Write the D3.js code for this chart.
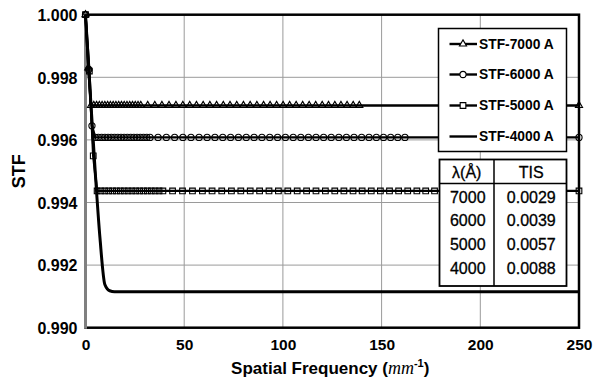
<!DOCTYPE html>
<html>
<head>
<meta charset="utf-8">
<script src="https://cdn.jsdelivr.net/npm/d3@7"></script>
<style>
  html, body { margin: 0; padding: 0; background: #fff; }
  svg { display: block; }
</style>
</head>
<body>
<svg id="chart" width="593" height="382"></svg>
<script>
// ---------------- DATA ----------------
const xTicks = [0, 50, 100, 150, 200, 250];
const yTicks = [0.990, 0.992, 0.994, 0.996, 0.998, 1.000];
const seriesNames = ["STF-7000 A", "STF-6000 A", "STF-5000 A", "STF-4000 A"];

const x7000 = [0, 1.4, 2.8, 4.2, 5.6, 7.0, 8.4, 9.8, 11.2, 12.6, 14.0, 15.4, 16.8, 18.2, 19.6, 21.0, 22.4, 23.8, 25.2, 26.6, 28.0,
  31.5, 35.1, 38.7, 42.3, 45.8, 49.3, 52.8, 56.2, 59.6, 63.0, 66.4, 69.8, 73.2, 76.6, 80.0, 83.4, 86.8, 90.2, 93.5, 96.8,
  100.1, 103.4, 106.7, 110.0, 113.3, 116.6, 119.9, 123.1, 126.3, 129.4, 132.5, 135.6, 138.7, 250];
const y7000 = [1.0000, 0.99830, 0.99710, 0.99710, 0.99710, 0.99710, 0.99710, 0.99710, 0.99710, 0.99710, 0.99710, 0.99710, 0.99710, 0.99710, 0.99710, 0.99710, 0.99710, 0.99710, 0.99710, 0.99710, 0.99710,
  0.99710, 0.99710, 0.99710, 0.99710, 0.99710, 0.99710, 0.99710, 0.99710, 0.99710, 0.99710, 0.99710, 0.99710, 0.99710, 0.99710, 0.99710, 0.99710, 0.99710, 0.99710, 0.99710, 0.99710,
  0.99710, 0.99710, 0.99710, 0.99710, 0.99710, 0.99710, 0.99710, 0.99710, 0.99710, 0.99710, 0.99710, 0.99710, 0.99710, 0.99710];

const x6000 = [0, 1.63, 3.27, 4.9, 6.53, 8.17, 9.8, 11.43, 13.07, 14.7, 16.33, 17.97, 19.6, 21.23, 22.87, 24.5, 26.13, 27.77, 29.4, 31.03, 32.67,
  36.75, 40.95, 45.15, 49.35, 53.43, 57.52, 61.6, 65.57, 69.53, 73.5, 77.47, 81.43, 85.4, 89.37, 93.33, 97.3, 101.27, 105.23, 109.07, 112.93,
  116.78, 120.63, 124.48, 128.33, 132.18, 136.03, 139.88, 143.62, 147.35, 150.97, 154.58, 158.2, 161.82, 250];
const y6000 = [1.0000, 0.99825, 0.99645, 0.99608, 0.99608, 0.99608, 0.99608, 0.99608, 0.99608, 0.99608, 0.99608, 0.99608, 0.99608, 0.99608, 0.99608, 0.99608, 0.99608, 0.99608, 0.99608, 0.99608, 0.99608,
  0.99608, 0.99608, 0.99608, 0.99608, 0.99608, 0.99608, 0.99608, 0.99608, 0.99608, 0.99608, 0.99608, 0.99608, 0.99608, 0.99608, 0.99608, 0.99608, 0.99608, 0.99608, 0.99608, 0.99608,
  0.99608, 0.99608, 0.99608, 0.99608, 0.99608, 0.99608, 0.99608, 0.99608, 0.99608, 0.99608, 0.99608, 0.99608, 0.99608, 0.99608];

const x5000 = [0, 1.96, 3.92, 5.88, 7.84, 9.8, 11.76, 13.72, 15.68, 17.64, 19.6, 21.56, 23.52, 25.48, 27.44, 29.4, 31.36, 33.32, 35.28, 37.24, 39.2,
  44.1, 49.14, 54.18, 59.22, 64.12, 69.02, 73.92, 78.68, 83.44, 88.2, 92.96, 97.72, 102.48, 107.24, 112.0, 116.76, 121.52, 126.28, 130.9, 135.52,
  140.14, 144.76, 149.38, 154.0, 158.62, 163.24, 167.86, 172.34, 176.82, 181.16, 185.5, 189.84, 194.18, 250];
const y5000 = [1.0000, 0.99820, 0.99549, 0.99437, 0.99437, 0.99437, 0.99437, 0.99437, 0.99437, 0.99437, 0.99437, 0.99437, 0.99437, 0.99437, 0.99437, 0.99437, 0.99437, 0.99437, 0.99437, 0.99437, 0.99437,
  0.99437, 0.99437, 0.99437, 0.99437, 0.99437, 0.99437, 0.99437, 0.99437, 0.99437, 0.99437, 0.99437, 0.99437, 0.99437, 0.99437, 0.99437, 0.99437, 0.99437, 0.99437, 0.99437, 0.99437,
  0.99437, 0.99437, 0.99437, 0.99437, 0.99437, 0.99437, 0.99437, 0.99437, 0.99437, 0.99437, 0.99437, 0.99437, 0.99437, 0.99437];

const x4000 = [0, 2.45, 4.9, 7.35, 9.8, 12.25, 14.7, 250];
const y4000 = [1.0000, 0.99745, 0.99500, 0.99285, 0.99138, 0.99118, 0.99115, 0.99115];

const tableHeader = ["λ(Å)", "TIS"];
const tableLambda = ["7000", "6000", "5000", "4000"];
const tableTIS = ["0.0029", "0.0039", "0.0057", "0.0088"];

// ---------------- LAYOUT ----------------
const svg = d3.select("#chart");
const L = 85.5, R = 579, T = 14.7, B = 327.7;

const x = d3.scaleLinear().domain([0, 250]).range([L, R]);
const y = d3.scaleLinear().domain([0.990, 1.000]).range([B, T]);

// gridlines
svg.append("g").selectAll("line.v").data(xTicks.slice(1, -1)).join("line")
  .attr("x1", d => x(d)).attr("x2", d => x(d)).attr("y1", T).attr("y2", B)
  .attr("stroke", "#9a9a9a").attr("stroke-width", 1);
svg.append("g").selectAll("line.h").data(yTicks.slice(1, -1)).join("line")
  .attr("x1", L).attr("x2", R).attr("y1", d => y(d)).attr("y2", d => y(d))
  .attr("stroke", "#9a9a9a").attr("stroke-width", 1);

// axes via d3
const yAxis = d3.axisLeft(y).tickValues(yTicks).tickFormat(d3.format(".3f")).tickSize(0).tickPadding(8);
const gy = svg.append("g").attr("transform", `translate(${L},0)`).call(yAxis);
gy.select(".domain").remove();
gy.selectAll("text").attr("font-family", "Liberation Sans, Arial, sans-serif")
  .attr("font-weight", "bold").attr("font-size", 16).attr("fill", "#000").attr("dy", "0.36em");

const xAxis = d3.axisBottom(x).tickValues(xTicks).tickFormat(d3.format("d")).tickSize(0).tickPadding(11);
const gx = svg.append("g").attr("transform", `translate(0,${B})`).call(xAxis);
gx.select(".domain").remove();
gx.selectAll("text").attr("font-family", "Liberation Sans, Arial, sans-serif")
  .attr("font-weight", "bold").attr("font-size", 15.5).attr("fill", "#000");

// plot border
svg.append("rect").attr("x", L).attr("y", T).attr("width", R - L).attr("height", B - T)
  .attr("fill", "none").attr("stroke", "#000").attr("stroke-width", 2.5);
svg.append("line").attr("x1", L).attr("x2", L).attr("y1", T).attr("y2", B + 1)
  .attr("stroke", "#808080").attr("stroke-width", 3);

// series
const series = [
  { name: seriesNames[0], xs: x7000, ys: y7000, sym: d3.symbolTriangle, size: 22, w: 2.4 },
  { name: seriesNames[1], xs: x6000, ys: y6000, sym: d3.symbolCircle, size: 30, w: 2.4 },
  { name: seriesNames[2], xs: x5000, ys: y5000, sym: d3.symbolSquare, size: 32, w: 2.4 },
  { name: seriesNames[3], xs: x4000, ys: y4000, sym: null, size: 0, w: 3 }
];

series.forEach(s => {
  const pts = s.xs.map((v, i) => [v, s.ys[i]]);
  const line = d3.line().x(d => x(d[0])).y(d => y(d[1]))
    .curve(s.sym ? d3.curveLinear : d3.curveMonotoneX);
  svg.append("path").datum(pts).attr("d", line)
    .attr("fill", "none").attr("stroke", "#000").attr("stroke-width", s.w).attr("stroke-linejoin", "round");
  if (s.sym) {
    svg.append("g").selectAll("path").data(pts).join("path")
      .attr("transform", d => `translate(${x(d[0])},${y(d[1])})`)
      .attr("d", d3.symbol().type(s.sym).size(s.size))
      .attr("fill", "none").attr("stroke", "#000").attr("stroke-width", 1.1);
  }
});

// legend
const lg = svg.append("g");
lg.append("rect").attr("x", 438.5).attr("y", 28.5).attr("width", 128).attr("height", 123)
  .attr("fill", "#fff").attr("stroke", "#000").attr("stroke-width", 1.5);
const legY = [44, 74.5, 105.5, 136.5];
series.forEach((s, i) => {
  const yy = legY[i];
  lg.append("line").attr("x1", 449.5).attr("x2", 477).attr("y1", yy).attr("y2", yy)
    .attr("stroke", "#000").attr("stroke-width", 2.4);
  if (s.sym) {
    lg.append("path").attr("transform", `translate(463,${yy})`)
      .attr("d", d3.symbol().type(s.sym).size(s.size)).attr("fill", "#fff")
      .attr("stroke", "#000").attr("stroke-width", 1.1);
  }
  lg.append("text").attr("x", 479).attr("y", yy).attr("dy", "0.36em")
    .attr("font-family", "Liberation Sans, Arial, sans-serif").attr("font-weight", "bold")
    .attr("font-size", 13.8).text(s.name);
});

// TIS table
const tb = svg.append("g");
const tL = 439.5, tR = 566.5, tT = 159.5, tB = 286, tMid = 494, tHead = 183.5;
tb.append("rect").attr("x", tL).attr("y", tT).attr("width", tR - tL).attr("height", tB - tT)
  .attr("fill", "#fff").attr("stroke", "#000").attr("stroke-width", 1.8);
tb.append("line").attr("x1", tMid).attr("x2", tMid).attr("y1", tT).attr("y2", tB)
  .attr("stroke", "#000").attr("stroke-width", 1.5);
tb.append("line").attr("x1", tL).attr("x2", tR).attr("y1", tHead).attr("y2", tHead)
  .attr("stroke", "#000").attr("stroke-width", 1.5);
const c1 = (tL + tMid) / 2, c2 = (tMid + tR) / 2 + 1;
const tFont = "Liberation Sans, Arial, sans-serif";
tb.append("text").attr("x", c1).attr("y", 177.5).attr("text-anchor", "middle")
  .attr("font-family", tFont).attr("font-size", 16).attr("stroke", "#000").attr("stroke-width", 0.3).text(tableHeader[0]);
tb.append("text").attr("x", c2).attr("y", 177.5).attr("text-anchor", "middle")
  .attr("font-family", tFont).attr("font-size", 16).attr("stroke", "#000").attr("stroke-width", 0.3).text(tableHeader[1]);
const rowY = [202.5, 226, 249.5, 273.5];
tableLambda.forEach((v, i) => {
  tb.append("text").attr("x", c1 + 1).attr("y", rowY[i]).attr("text-anchor", "middle")
    .attr("font-family", tFont).attr("font-size", 16).attr("stroke", "#000").attr("stroke-width", 0.3).text(v);
  tb.append("text").attr("x", c2).attr("y", rowY[i]).attr("text-anchor", "middle")
    .attr("font-family", tFont).attr("font-size", 16).attr("stroke", "#000").attr("stroke-width", 0.3).text(tableTIS[i]);
});

// axis titles
svg.append("text").attr("transform", `translate(25,${(T + B) / 2}) rotate(-90)`)
  .attr("text-anchor", "middle").attr("font-family", "Liberation Sans, Arial, sans-serif")
  .attr("font-weight", "bold").attr("font-size", 18).text("STF");

const xt = svg.append("text").attr("x", (L + R) / 2 - 2).attr("y", 373.5).attr("text-anchor", "middle")
  .attr("font-family", "Liberation Sans, Arial, sans-serif").attr("font-weight", "bold").attr("font-size", 17);
xt.append("tspan").text("Spatial Frequency (");
xt.append("tspan").attr("font-family", "Liberation Serif, Times New Roman, serif").attr("font-style", "italic")
  .attr("font-weight", "normal").attr("font-size", 18).text("mm");
xt.append("tspan").attr("dy", -7).attr("font-size", 11).text("-1");
xt.append("tspan").attr("dy", 7).text(")");
</script>
</body>
</html>
